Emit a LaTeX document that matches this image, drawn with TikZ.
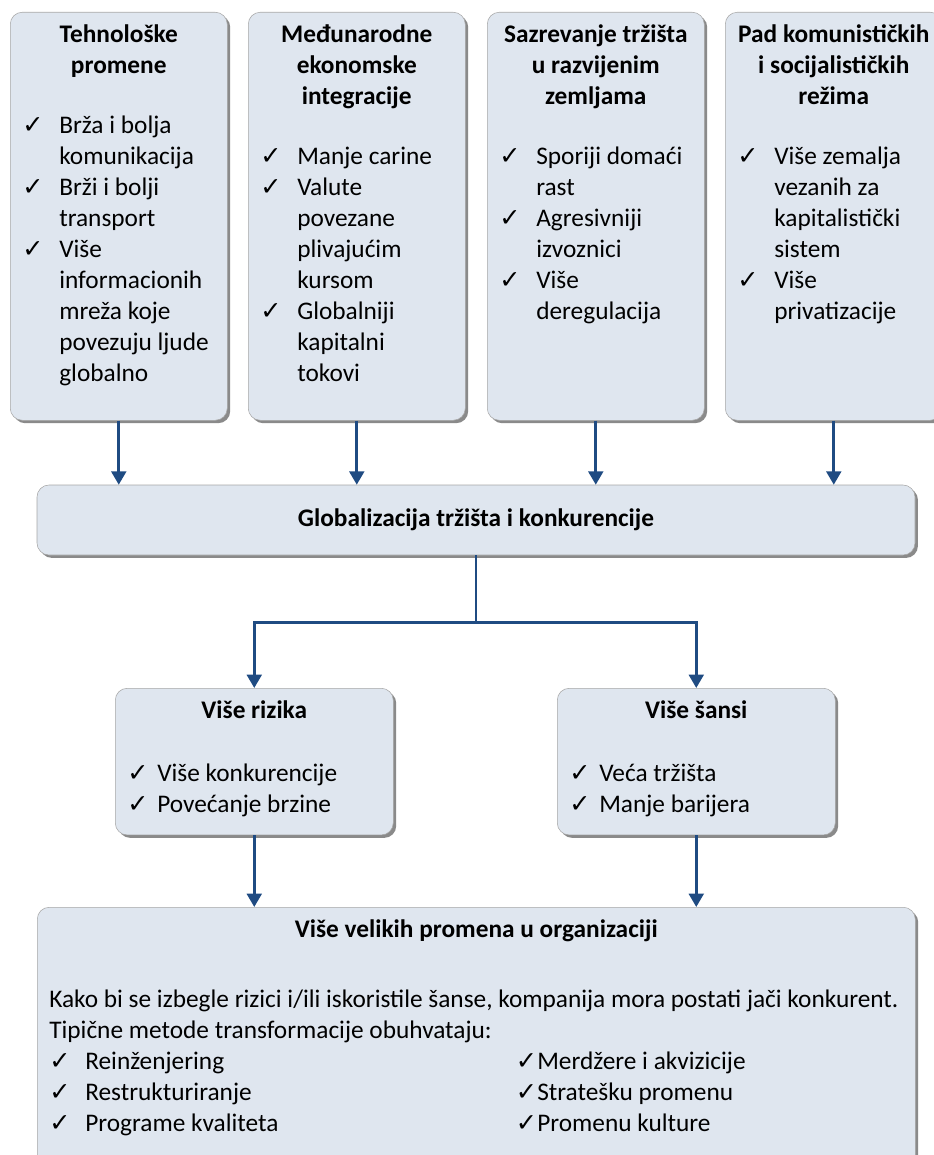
\documentclass[tikz,border=0pt]{standalone}
\usepackage{fontspec}
\setmainfont{Carlito}
\newfontfamily\tickfont{DejaVu Sans}
\usetikzlibrary{arrows.meta,shadows}

\definecolor{boxfill}{HTML}{DFE6EF}
\definecolor{boxline}{HTML}{A6A6A6}
\definecolor{boxshade}{HTML}{8A8A8A}
\definecolor{linkblue}{HTML}{1F4B82}

\newcommand\ck{{\tickfont\fontsize{19}{19}\selectfont ✓}}
\newcommand\checks[2][27.75pt]{\noindent\begin{tabular}[t]{@{}p{#1}@{}l@{}}#2\end{tabular}}
\newcommand\heading[1]{{\centering\bfseries\strut #1\par}}

\begin{document}
\begin{tikzpicture}[x=.75pt,y=-.75pt,
  every node/.style={font=\fontsize{19}{23.25}\selectfont},
  panel/.style={draw=boxline,fill=boxfill,rounded corners=9pt,anchor=north west,
    inner xsep=9pt,inner ysep=6.5pt,
    drop shadow={shadow xshift=2.2pt,shadow yshift=-2.2pt,fill=boxshade,opacity=1}},
  link/.style={draw=linkblue,line width=2.2pt},
  feed/.style={link,-{Triangle[width=11pt,length=10pt]}}]
\useasboundingbox (0,0) rectangle (933,1155);

% four causes
\node[panel] (tech) at (10,12) {\begin{minipage}[t][293pt][t]{144.75pt}
  \heading{Tehnološke\\promene}
  \vspace{21.75pt}
  \checks{\ck & Brža i bolja\\ & komunikacija\\ \ck & Brži i bolji\\ & transport\\
    \ck & Više\\ & informacionih\\ & mreža koje\\ & povezuju ljude\\ & globalno}
\end{minipage}};
\node[panel] (integ) at (248,12) {\begin{minipage}[t][293pt][t]{144.75pt}
  \heading{Međunarodne\\ekonomske\\integracije}
  \vspace{21.75pt}
  \checks{\ck & Manje carine\\ \ck & Valute\\ & povezane\\ & plivajućim\\ & kursom\\
    \ck & Globalniji\\ & kapitalni\\ & tokovi}
\end{minipage}};
\node[panel] (market) at (487,12) {\begin{minipage}[t][293pt][t]{144.75pt}
  \heading{Sazrevanje tržišta\\u razvijenim\\zemljama}
  \vspace{21.75pt}
  \checks{\ck & Sporiji domaći\\ & rast\\ \ck & Agresivniji\\ & izvoznici\\
    \ck & Više\\ & deregulacija}
\end{minipage}};
\node[panel] (regime) at (725,12) {\begin{minipage}[t][293pt][t]{144.75pt}
  \heading{\makebox[\linewidth]{Pad komunističkih}\\i socijalističkih\\režima}
  \vspace{21.75pt}
  \checks{\ck & Više zemalja\\ & vezanih za\\ & kapitalistički\\ & sistem\\
    \ck & Više\\ & privatizacije}
\end{minipage}};

\node[panel,anchor=center,minimum width=658.5pt,minimum height=52.5pt,
  font=\fontsize{19}{23.25}\selectfont\bfseries] (global) at (476,520)
  {Globalizacija tržišta i konkurencije};

% risks and chances
\node[panel] (risk) at (115,688) {\begin{minipage}[t][97pt][t]{190.5pt}
  \heading{Više rizika}
  \vspace{24pt}
  \checks[22.5pt]{\ck & Više konkurencije\\ \ck & Povećanje brzine}
\end{minipage}};
\node[panel] (chance) at (557,688) {\begin{minipage}[t][97pt][t]{190.5pt}
  \heading{Više šansi}
  \vspace{24pt}
  \checks[22.5pt]{\ck & Veća tržišta\\ \ck & Manje barijera}
\end{minipage}};

\node[panel] (change) at (37,907) {\begin{minipage}[t][188pt][t]{640.5pt}
  \heading{Više velikih promena u organizaciji}
  \vspace{29.25pt}
  \noindent\begin{tabular}[t]{@{}p{27pt}@{}p{323pt}@{}p{16pt}@{}l@{}}
  \multicolumn{4}{@{}l@{}}{Kako bi se izbegle rizici i/ili iskoristile šanse, kompanija mora postati jači konkurent.}\\
  \multicolumn{4}{@{}l@{}}{Tipične metode transformacije obuhvataju:}\\
  \ck & Reinženjering & \ck & Merdžere i akvizicije\\
  \ck & Restrukturiranje & \ck & Stratešku promenu\\
  \ck & Programe kvaliteta & \ck & Promenu kulture
  \end{tabular}
\end{minipage}};

\foreach \n in {tech,integ,market,regime}
  \draw[feed] (\n.south) -- (\n.south |- global.north);
\draw[link] (global.south) -- ++(0,67) coordinate (fork);
\draw[feed] (fork) -| (risk.north);
\draw[feed] (fork) -| (chance.north);
\draw[feed] (risk.south) -- (risk.south |- change.north);
\draw[feed] (chance.south) -- (chance.south |- change.north);
\end{tikzpicture}
\end{document}
